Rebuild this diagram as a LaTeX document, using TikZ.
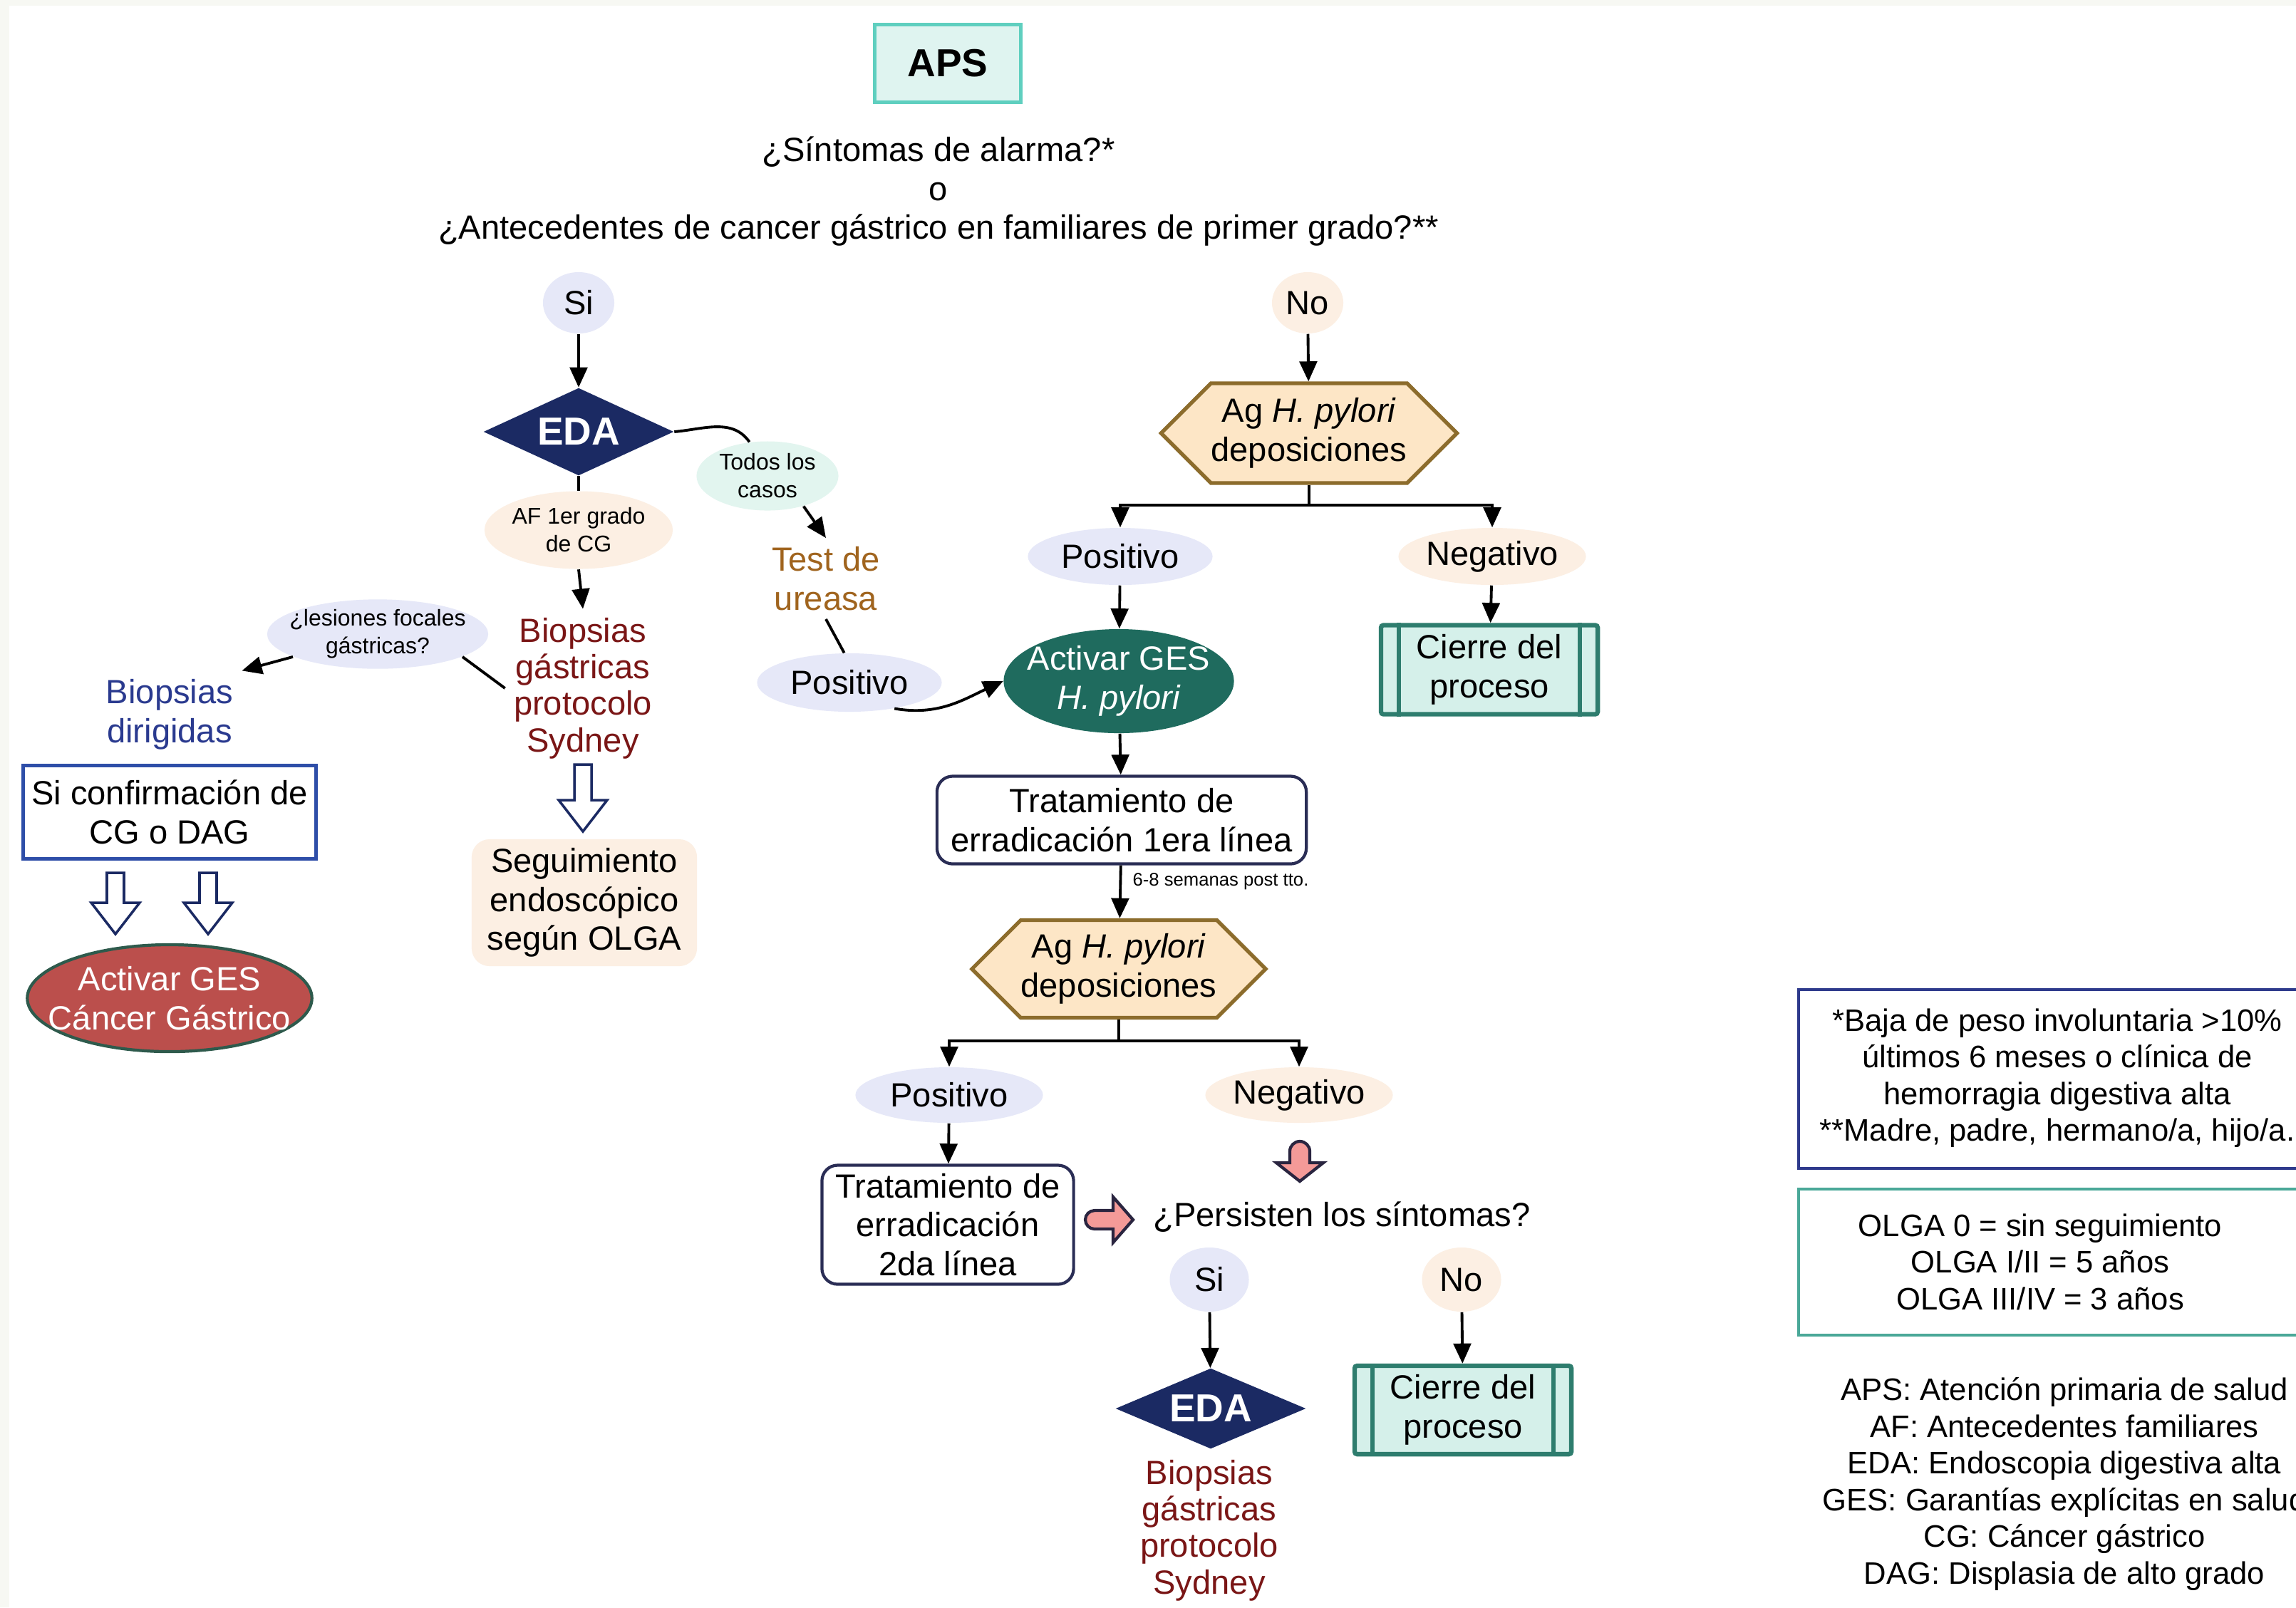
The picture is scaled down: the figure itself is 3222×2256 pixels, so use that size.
\documentclass[tikz,border=0pt]{standalone}
\usepackage{fontspec}
\setmainfont{Liberation Sans}
\usetikzlibrary{shapes.geometric,shapes.symbols,arrows.meta}

\definecolor{lila}{HTML}{E6E8F8}
\definecolor{durazno}{HTML}{FCEFE3}
\definecolor{menta}{HTML}{E2F5EF}
\definecolor{apsfill}{HTML}{DFF4F0}
\definecolor{apsline}{HTML}{5FCFBF}
\definecolor{azuleda}{HTML}{1B2A63}
\definecolor{verdeges}{HTML}{1F6B5E}
\definecolor{rojoges}{HTML}{BB4F4C}
\definecolor{rojoline}{HTML}{2E5A4C}
\definecolor{cierrefill}{HTML}{D5F0EA}
\definecolor{cierreline}{HTML}{2E7D6E}
\definecolor{agfill}{HTML}{FDE6C6}
\definecolor{agline}{HTML}{8C6C2C}
\definecolor{biopsia}{HTML}{7A1616}
\definecolor{dirigida}{HTML}{2A3A8F}
\definecolor{ureasa}{HTML}{A0641E}
\definecolor{cajaazul}{HTML}{2E4EA8}
\definecolor{tratline}{HTML}{2A2D55}
\definecolor{rosa}{HTML}{F49A98}
\definecolor{rosaline}{HTML}{2A2540}
\definecolor{nota1}{HTML}{2E3A8C}
\definecolor{nota2}{HTML}{4AA898}
\definecolor{borde}{HTML}{F7F8F3}

\newcommand{\fmain}{\fontsize{13.4}{15.5}\selectfont}
\newcommand{\fbiop}{\fontsize{13.4}{14.6}\selectfont}
\newcommand{\fsmall}{\fontsize{9.1}{11.1}\selectfont}
\newcommand{\ftiny}{\fontsize{7.3}{8.8}\selectfont}
\newcommand{\fbig}{\fontsize{15.6}{18}\selectfont\bfseries}
\newcommand{\fnota}{\fontsize{12.4}{14.65}\selectfont}

\begin{document}
\begin{tikzpicture}[x=0.01cm,y=-0.01cm,
    flecha/.style={-{Triangle[length=8pt,width=7pt]}, line width=1.1pt},
    linea/.style={line width=1.1pt},
    burbuja/.style={ellipse, inner sep=0pt, font=\fmain, align=center},
    lila/.style={burbuja, fill=lila},
    durazno/.style={burbuja, fill=durazno},
    edabox/.style={diamond, fill=azuleda, text=white, font=\fbig, inner sep=0pt},
    agbox/.style={signal, signal to=west and east, signal pointer angle=90,
        fill=agfill, draw=agline, line width=1.5pt, font=\fmain, align=center,
        inner sep=0pt},
    cierre/.style={rectangle, fill=cierrefill, draw=cierreline, line width=1.8pt,
        rounded corners=1pt, font=\fmain, align=center,
        minimum width=3.04cm, minimum height=1.25cm},
    trat/.style={rectangle, rounded corners=0.22cm, draw=tratline, line width=1.2pt,
        fill=white, font=\fmain, align=center},
    hueca/.style={draw=azuleda, fill=white, line width=1pt, line join=miter},
    rosada/.style={draw=rosaline, fill=rosa, line width=1.2pt},
]

    \clip (0,0) rectangle (3222,2256);
    \fill[white] (0,0) rectangle (3222,2256);
    \fill[borde] (0,0) rectangle (3222,8);
    \fill[borde] (0,0) rectangle (13,2256);

    % Top: APS and the first question
    \node[rectangle, fill=apsfill, draw=apsline, line width=1.5pt, font=\fbig,
          minimum width=2.05cm, minimum height=1.09cm] (aps) at (1330,89) {APS};
    \node[font=\fmain, align=center] (pregunta) at (1317,269)
        {¿Síntomas de alarma?*\\o\\¿Antecedentes de cancer gástrico en familiares de primer grado?**};

    \node[lila, minimum width=1cm, minimum height=0.86cm] (si) at (812,425) {Si};
    \node[durazno, minimum width=1cm, minimum height=0.86cm] (no) at (1835,425) {No};

    % Left branch: endoscopy
    \node[edabox, aspect=2.17, minimum width=2.67cm, minimum height=1.23cm] (eda) at (812,606) {EDA};
    \node[burbuja, fill=menta, font=\fsmall, minimum width=1.99cm, minimum height=0.97cm]
        (todos) at (1077,668) {Todos los\\casos};
    \node[text=ureasa, font=\fmain, align=center] (test) at (1159,812) {Test de\\ureasa};
    \node[lila, minimum width=2.59cm, minimum height=0.82cm] (posu) at (1192,958) {Positivo};
    \node[durazno, font=\fsmall, minimum width=2.57cm, minimum height=1.09cm]
        (af) at (812,744) {AF 1er grado\\de CG};
    \node[text=biopsia, font=\fbiop, align=center] (biop) at (818,966)
        {Biopsias\\gástricas\\protocolo\\Sydney};
    \node[lila, font=\fsmall, inner xsep=-0.15cm, minimum width=3.1cm, minimum height=0.95cm]
        (lesiones) at (530,890) {¿lesiones focales\\gástricas?};
    \node[text=dirigida, font=\fmain, align=center] (dirigidas) at (238,1003) {Biopsias\\dirigidas};
    \node[rectangle, draw=cajaazul, line width=1.3pt, font=\fmain, align=center,
          minimum width=3.99cm, minimum height=1.31cm] (confirma) at (238,1140)
        {Si confirmación de\\CG o DAG};
    \node[burbuja, fill=rojoges, draw=rojoline, line width=1.2pt, text=white,
          inner xsep=-0.29cm, inner ysep=-0.1cm, minimum width=3.99cm, minimum height=1.5cm]
        (gescg) at (238,1401) {Activar GES\\Cáncer Gástrico};
    \node[rectangle, rounded corners=0.25cm, fill=durazno, font=\fmain, align=center,
          minimum width=3.16cm, minimum height=1.78cm] (olga) at (820,1267)
        {Seguimiento\\endoscópico\\según OLGA};

    \draw[flecha] (si) -- (eda);
    \draw[linea] (eda.east) to[out=5,in=125] (todos.118);
    \draw[flecha] (todos.-40) -- (test.north);
    \draw[linea] (test.south) -- (posu.100);
    \draw[linea] (eda.south) -- (af.north);
    \draw[flecha] (af.south) -- (biop.north);
    \draw[linea] (lesiones.-15) -- (biop.west);
    \draw[flecha] (lesiones.195) -- (dirigidas.north east);

    % hollow arrows
    \foreach \hx/\ht/\hb in {162/1225/1311, 292/1225/1311, 818/1073/1167} {
        \draw[hueca] ({\hx-12},\ht) -- ({\hx+12},\ht) -- ({\hx+12},{\hb-44})
            -- ({\hx+34},{\hb-44}) -- (\hx,\hb) -- ({\hx-34},{\hb-44})
            -- ({\hx-12},{\hb-44}) -- cycle;
    }

    % Right branch: H. pylori antigen
    \node[agbox, minimum width=4.07cm, minimum height=1.4cm] (agA) at (1837,608)
        {Ag \textit{H. pylori}\\deposiciones};
    \coordinate (splitA) at (1837,709);
    \node[lila, minimum width=2.59cm, minimum height=0.8cm] (posA) at (1572,781) {Positivo};
    \node[durazno, minimum width=2.63cm, minimum height=0.8cm] (negA) at (2094,781) {Negativo};
    \node[burbuja, fill=verdeges, text=white, inner xsep=-0.15cm,
          minimum width=3.23cm, minimum height=1.46cm] (geshp) at (1570,956)
        {Activar GES\\\textit{H. pylori}};
    \node[cierre] (cierreA) at (2090,940) {Cierre del\\proceso};
    \node[trat, minimum width=5.18cm, minimum height=1.23cm] (tratA) at (1574,1151)
        {Tratamiento de\\erradicación 1era línea};
    \node[agbox, minimum width=3.86cm, minimum height=1.37cm] (agB) at (1570,1360)
        {Ag \textit{H. pylori}\\deposiciones};
    \coordinate (splitB) at (1570,1461);
    \node[lila, minimum width=2.63cm, minimum height=0.78cm] (posB) at (1332,1537) {Positivo};
    \node[durazno, minimum width=2.63cm, minimum height=0.78cm] (negB) at (1823,1537) {Negativo};
    \node[trat, minimum width=3.53cm, minimum height=1.62cm] (tratB) at (1330,1719)
        {Tratamiento de\\erradicación\\2da línea};
    \node[font=\fmain, anchor=west] (persisten) at (1606,1708) {¿Persisten los síntomas?};
    \node[lila, minimum width=1.11cm, minimum height=0.9cm] (siB) at (1697,1796) {Si};
    \node[durazno, minimum width=1.11cm, minimum height=0.9cm] (noB) at (2051,1796) {No};
    \node[edabox, aspect=2.36, minimum width=2.67cm, minimum height=1.13cm] (edaB) at (1699,1977) {EDA};
    \node[text=biopsia, font=\fbiop, align=center] (biopB) at (1697,2148)
        {Biopsias\\gástricas\\protocolo\\Sydney};
    \node[cierre, minimum height=1.24cm] (cierreB) at (2053,1979) {Cierre del\\proceso};

    \foreach \c in {cierreA, cierreB} {
        \draw[cierreline, line width=1.8pt] ([xshift=0.28cm]\c.north west) -- ([xshift=0.28cm]\c.south west);
        \draw[cierreline, line width=1.8pt] ([xshift=-0.28cm]\c.north east) -- ([xshift=-0.28cm]\c.south east);
    }

    \draw[flecha] (no) -- (agA);
    \draw[linea] (agA.south) -- (splitA);
    \draw[flecha] (splitA) -| (posA.north);
    \draw[flecha] (splitA) -| (negA.north);
    \draw[flecha] (posA) -- (geshp);
    \draw[flecha] (negA) -- (cierreA);
    \draw[flecha] (posu.-30) to[out=-10,in=205] (geshp.west);
    \draw[flecha] (geshp) -- (tratA);
    \draw[flecha] (tratA) -- (agB) node[pos=0.3, right=1pt, font=\ftiny] (semanas) {6-8 semanas post tto.};
    \draw[linea] (agB.south) -- (splitB);
    \draw[flecha] (splitB) -| (posB.north);
    \draw[flecha] (splitB) -| (negB.north);
    \draw[flecha] (posB) -- (tratB);
    \draw[flecha] (siB) -- (edaB);
    \draw[flecha] (noB) -- (cierreB);

    % pink block arrows
    \draw[rosada] (1810,1632) -- (1810,1616) arc[start angle=180, end angle=0, radius=0.14cm]
        -- (1838,1632) -- (1857,1632) -- (1824,1658) -- (1791,1632) -- cycle;
    \draw[rosada] (1562,1699) -- (1536,1699) arc[start angle=90, end angle=270, radius=0.13cm]
        -- (1562,1725) -- (1562,1744) -- (1590,1712) -- (1562,1680) -- cycle;

    % Notes on the right
    \draw[nota1, line width=1.3pt] (2524,1389) rectangle (3250,1640);
    \node[font=\fnota, align=center] (notaA) at (2887,1513)
        {*Baja de peso involuntaria >10\%\\últimos 6 meses o clínica de\\hemorragia digestiva alta\\**Madre, padre, hermano/a, hijo/a.};
    \draw[nota2, line width=1.3pt] (2524,1669) rectangle (3250,1874);
    \node[font=\fnota, align=center] (notaB) at (2863,1771)
        {OLGA 0 = sin seguimiento\\OLGA I/II = 5 años\\OLGA III/IV = 3 años};
    \node[font=\fnota, align=center] (siglas) at (2897,2083)
        {APS: Atención primaria de salud\\AF: Antecedentes familiares\\EDA: Endoscopia digestiva alta\\GES: Garantías explícitas en salud\\CG: Cáncer gástrico\\DAG: Displasia de alto grado};

\end{tikzpicture}
\end{document}
